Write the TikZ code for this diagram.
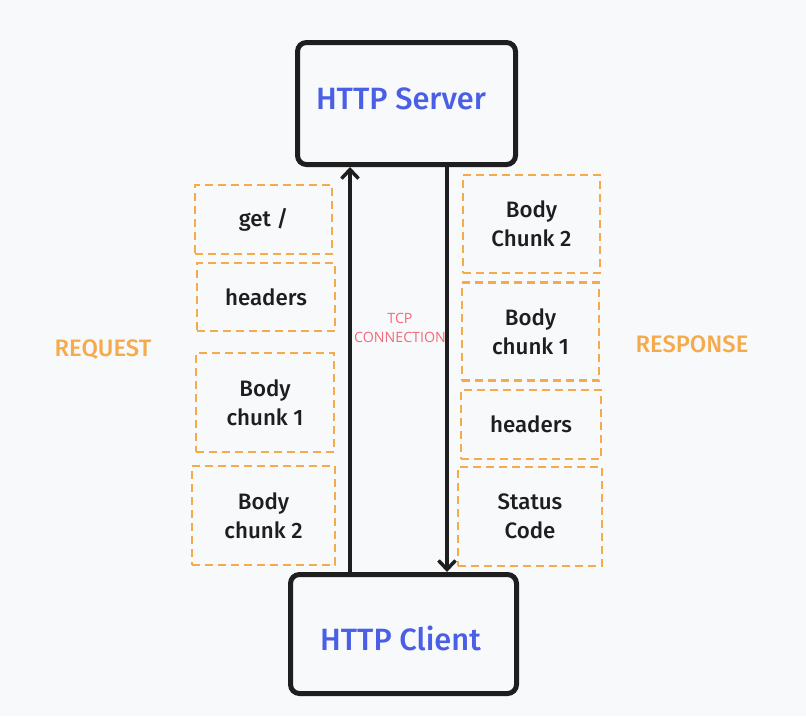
\documentclass[tikz,border=0pt]{standalone}
\usepackage{fontspec}
\setmainfont{Open Sans}
\newfontfamily\medfont{Fira Sans}[UprightFont={* Medium}]
\usetikzlibrary{arrows.meta}
\definecolor{bgc}{HTML}{F8F9FB}
\definecolor{inkc}{HTML}{1E1E1E}
\definecolor{bluec}{HTML}{4A5FE6}
\definecolor{orangec}{HTML}{F5AB4C}
\definecolor{pinkc}{HTML}{F26B7A}
\tikzset{
  mainbox/.style={draw=inkc, line width=5pt, rounded corners=9pt, fill=bgc, inner sep=0pt},
  maintext/.style={text=bluec, font=\medfont\fontsize{30.8}{34}\selectfont, inner sep=0pt},
  chunk/.style={draw=orangec, line width=2.5pt, dash pattern=on 8pt off 5pt,
    text=inkc, font=\medfont\fontsize{22.3}{29}\selectfont, align=center, inner sep=0pt},
  flow/.style={draw=inkc, line width=3.5pt, -{Straight Barb[length=9pt,width=17pt,line width=3.5pt]}},
  sidelabel/.style={text=orangec, font=\medfont\fontsize{23.8}{28}\selectfont},
  tcplabel/.style={text=pinkc, font=\fontsize{14.2}{19}\selectfont, align=center}
}
\begin{document}
\begin{tikzpicture}[x=1pt,y=-1pt]
\fill[bgc] (0,0) rectangle (806,716);
\useasboundingbox (0,0) rectangle (806,716);

\node[mainbox, minimum width=218pt, minimum height=122pt] (server) at (406.5,103.5) {};
\node[maintext] (servertext) at (401,99) {HTTP Server};
\node[mainbox, minimum width=226pt, minimum height=119pt] (client) at (403.5,634) {};
\node[maintext] (clienttext) at (400.5,638) {HTTP Client};

\coordinate (la) at (350,0);
\coordinate (ra) at (447,0);
\draw[flow] (la |- client.north) -- (la |- server.south);
\draw[flow] (ra |- server.south) -- (ra |- client.north);

% request chunks
\node[chunk, minimum width=137pt, minimum height=69pt] (getr) at (263.5,219.5) {get /};
\node[chunk, minimum width=138pt, minimum height=68pt] (hdrq) at (266,297) {headers};
\node[chunk, minimum width=138pt, minimum height=99pt] (bq1) at (265,402.5) {Body\\chunk 1};
\node[chunk, minimum width=143pt, minimum height=99pt] (bq2) at (263.5,515.5) {Body\\chunk 2};

% response chunks
\node[chunk, minimum width=137pt, minimum height=98pt] (bs2) at (531.5,224) {Body\\Chunk 2};
\node[chunk, minimum width=137pt, minimum height=98pt] (bs1) at (530.5,331.5) {Body\\chunk 1};
\node[chunk, minimum width=140pt, minimum height=69pt] (hdrs) at (531,424.5) {headers};
\node[chunk, minimum width=144pt, minimum height=99pt] (stat) at (530,516.5) {Status\\Code};

\node[sidelabel] (req) at (103,350) {REQUEST};
\node[sidelabel] (resp) at (692,344) {RESPONSE};
\node[tcplabel] (tcp) at (400,328) {TCP\\CONNECTION};
\end{tikzpicture}
\end{document}
